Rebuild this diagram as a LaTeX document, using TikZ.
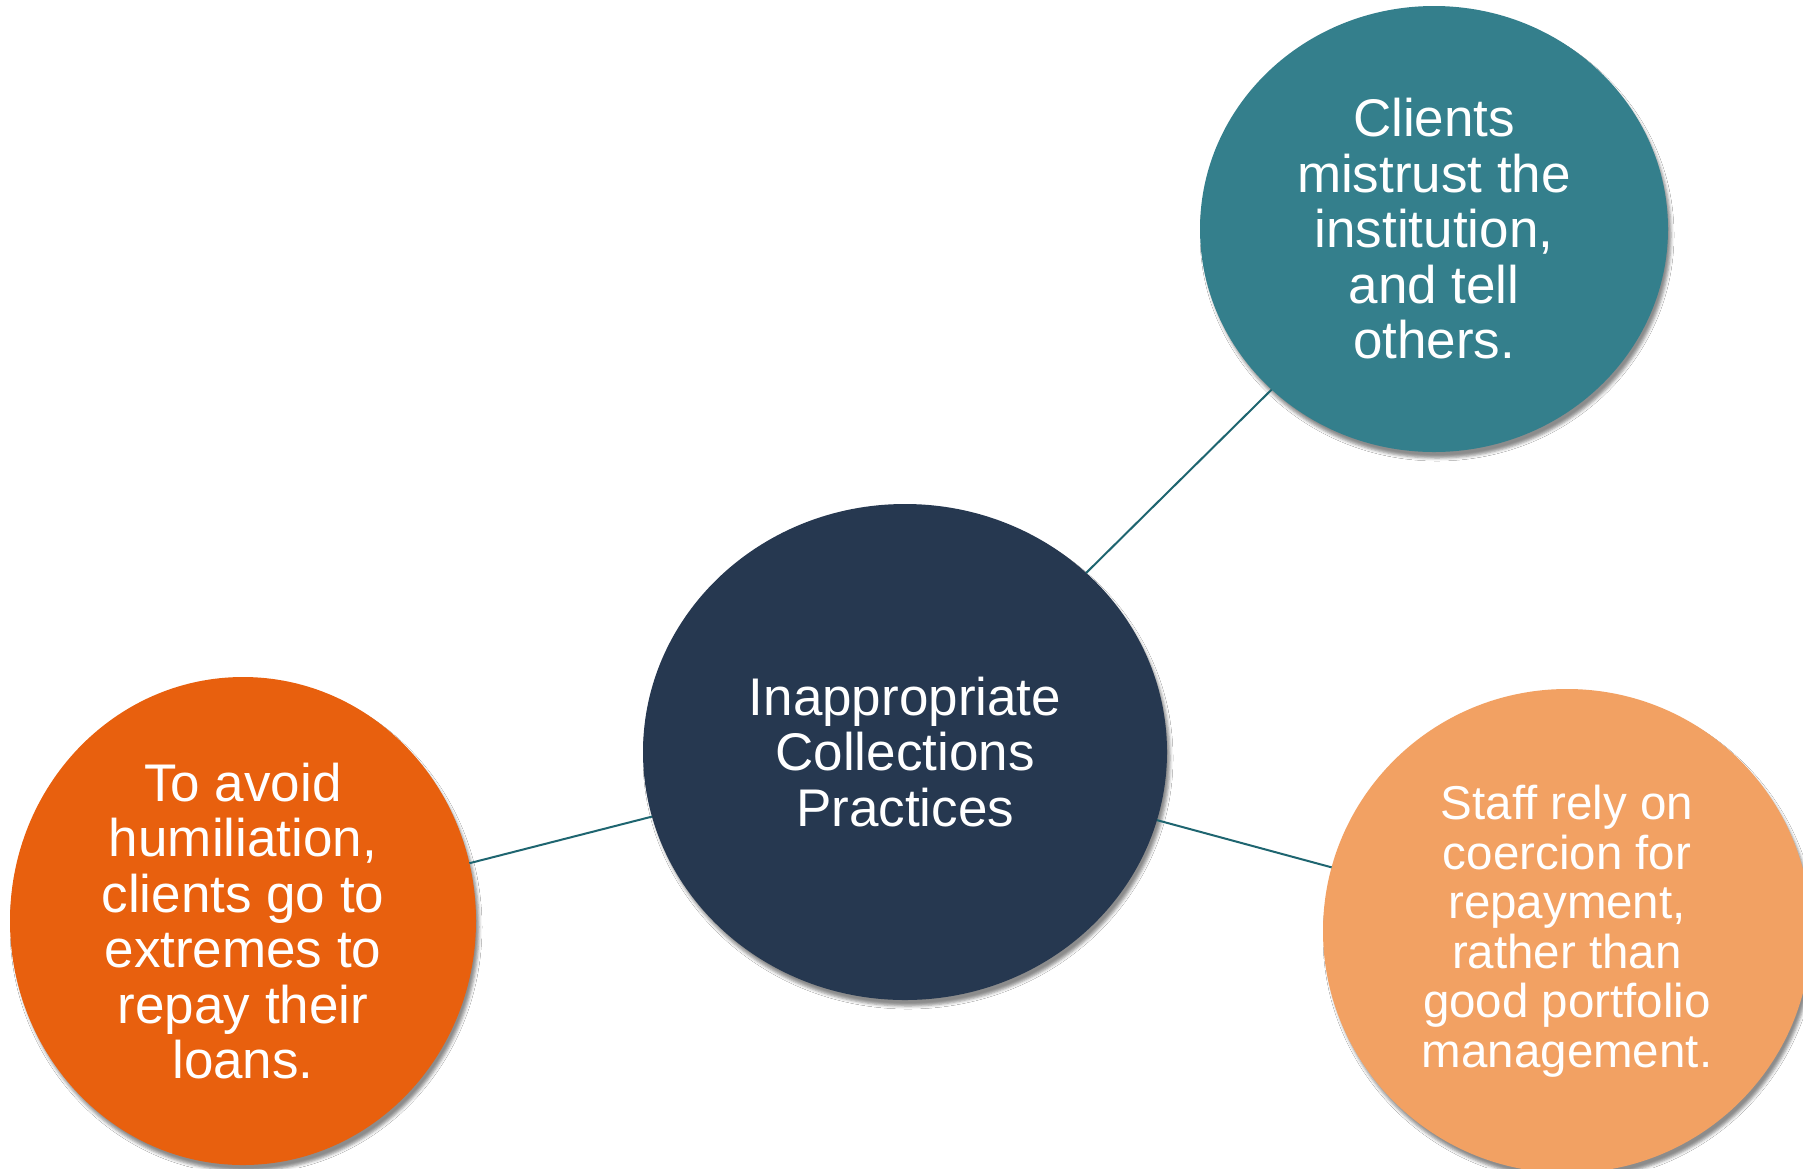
\documentclass[tikz,border=0pt]{standalone}
\usepackage{fontspec}
\setmainfont{Liberation Sans}
\usetikzlibrary{shapes.geometric,shadows.blur}
\definecolor{navy}{HTML}{263850}
\definecolor{tealc}{HTML}{347F8C}
\definecolor{orangec}{HTML}{E8600E}
\definecolor{lightorange}{HTML}{F2A163}
\definecolor{linkc}{HTML}{1E6570}
\tikzset{
  bubble/.style={ellipse, inner sep=0pt, outer sep=0pt, text=white, align=center,
    blur shadow={shadow xshift=3pt, shadow yshift=-6pt, shadow blur radius=3pt, shadow opacity=45}},
  bigtext/.style={font=\fontsize{53}{55.5}\selectfont},
  smalltext/.style={font=\fontsize{47.5}{49.5}\selectfont},
  link/.style={draw=linkc, line width=2pt}
}
\begin{document}
\begin{tikzpicture}[x=1pt,y=-1pt]
\useasboundingbox (0,0) rectangle (1803,1168);
\fill[white] (0,0) rectangle (1803,1168);
\node[bubble, bigtext, fill=navy, minimum width=524pt, minimum height=496pt] (center) at (905,752)
  {Inappropriate\\Collections\\Practices};
\node[bubble, bigtext, fill=tealc, minimum width=468pt, minimum height=446pt] (teal) at (1434,229)
  {Clients\\mistrust the\\institution,\\and tell\\others.};
\node[bubble, bigtext, fill=orangec, minimum width=466pt, minimum height=488pt] (left) at (243,921)
  {To avoid\\humiliation,\\clients go to\\extremes to\\repay their\\loans.};
\node[bubble, smalltext, fill=lightorange, minimum width=488pt, minimum height=484pt] (right) at (1567,931)
  {Staff rely on\\coercion for\\repayment,\\rather than\\good portfolio\\management.};
\draw[link] (center) -- (teal);
\draw[link] (center) -- (left);
\draw[link] (center) -- (right);
\end{tikzpicture}
\end{document}
